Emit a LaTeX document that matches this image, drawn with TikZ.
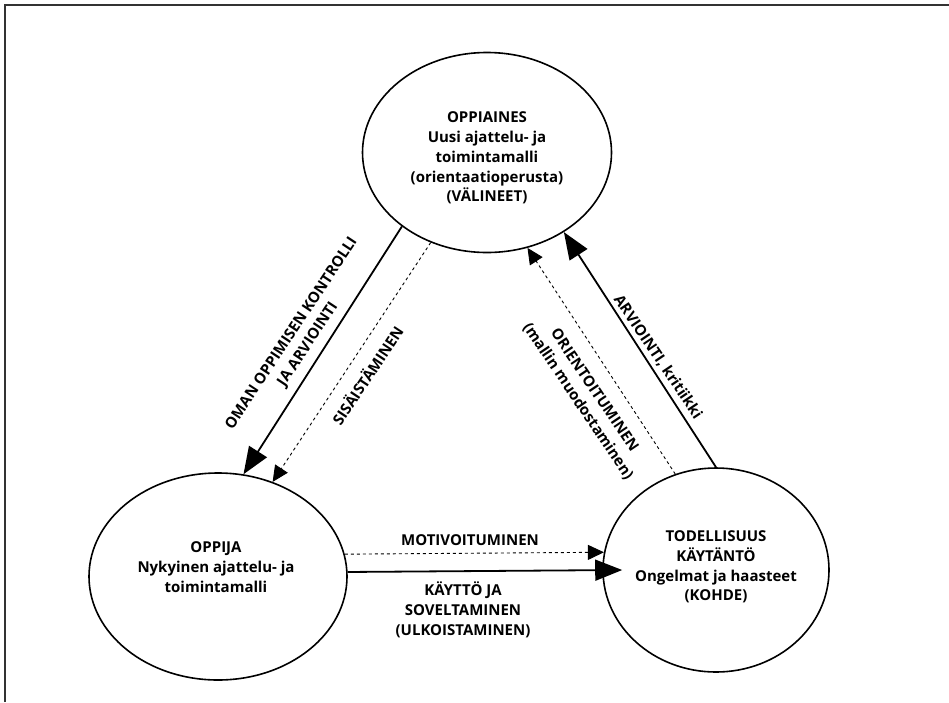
\documentclass[tikz,border=0pt]{standalone}
\usepackage{fontspec}
\setmainfont{Open Sans}
\usetikzlibrary{shapes.geometric,arrows.meta}

\tikzset{
  bub/.style={draw, ellipse, line width=1.6pt, inner sep=0pt},
  txt/.style={font=\bfseries\fontsize{15}{19.8}\selectfont, align=center, inner sep=0pt},
  solidarrow/.style={line width=1.8pt, -{Triangle[length=27pt,width=21pt]}},
  dotarrow/.style={line width=0.9pt, dash pattern=on 3pt off 3pt, -{Triangle[length=16pt,width=15pt]}},
}

\begin{document}
\begin{tikzpicture}[x=1pt, y=-1pt]
  \useasboundingbox (0,0) rectangle (949,702);
  % page frame (top and left)
  \draw[line width=1.5pt, black!80] (5,702) -- (5,5) -- (949,5);

  % the three ellipses
  \node[bub, minimum width=249pt, minimum height=200pt] (top) at (487,152.5) {};
  \node[bub, minimum width=258pt, minimum height=207pt] (lft) at (218,576.5) {};
  \node[bub, minimum width=226pt, minimum height=204pt] (rgt) at (716,570) {};

  % texts inside the ellipses
  \node[txt] (toptext) at (487,158) {OPPIAINES\\Uusi ajattelu- ja\\toimintamalli\\(orientaatioperusta)\\(VÄLINEET)};
  \node[txt] (lfttext) at (216,567) {OPPIJA\\Nykyinen ajattelu- ja\\toimintamalli};
  \node[txt] (rgttext) at (716,567) {TODELLISUUS\\KÄYTÄNTÖ\\Ongelmat ja haasteet\\(KOHDE)};

  % connectors
  \draw[solidarrow] (top.221) -- (lft.76);
  \draw[dotarrow] (top.238) -- (lft.60);
  \draw[dotarrow] (rgt.113) -- (top.293);
  \draw[solidarrow] (rgt.90) -- (top.314);
  \draw[dotarrow] (lft.10.5) -- (rgt.171.3);
  \draw[solidarrow] (lft.2.9) -- ([xshift=20pt]rgt.west);

  % connector labels
  \node[txt, rotate=56.5] (lbloman) at (300,339) {OMAN OPPIMISEN KONTROLLI\\JA ARVIOINTI};
  \node[txt, rotate=56.4] (lblsis) at (367,375) {SISÄISTÄMINEN};
  \node[txt, rotate=-56] (lblarv) at (658,357) {ARVIOINTI, kritiikki};
  \node[txt, rotate=-56] (lblori) at (586,396) {ORIENTOITUMINEN\\(mallin muodostaminen)};
  \node[txt] (lblmot) at (470,540) {MOTIVOITUMINEN};
  \node[txt] (lblkay) at (463,610) {KÄYTTÖ JA\\SOVELTAMINEN\\(ULKOISTAMINEN)};
\end{tikzpicture}
\end{document}
